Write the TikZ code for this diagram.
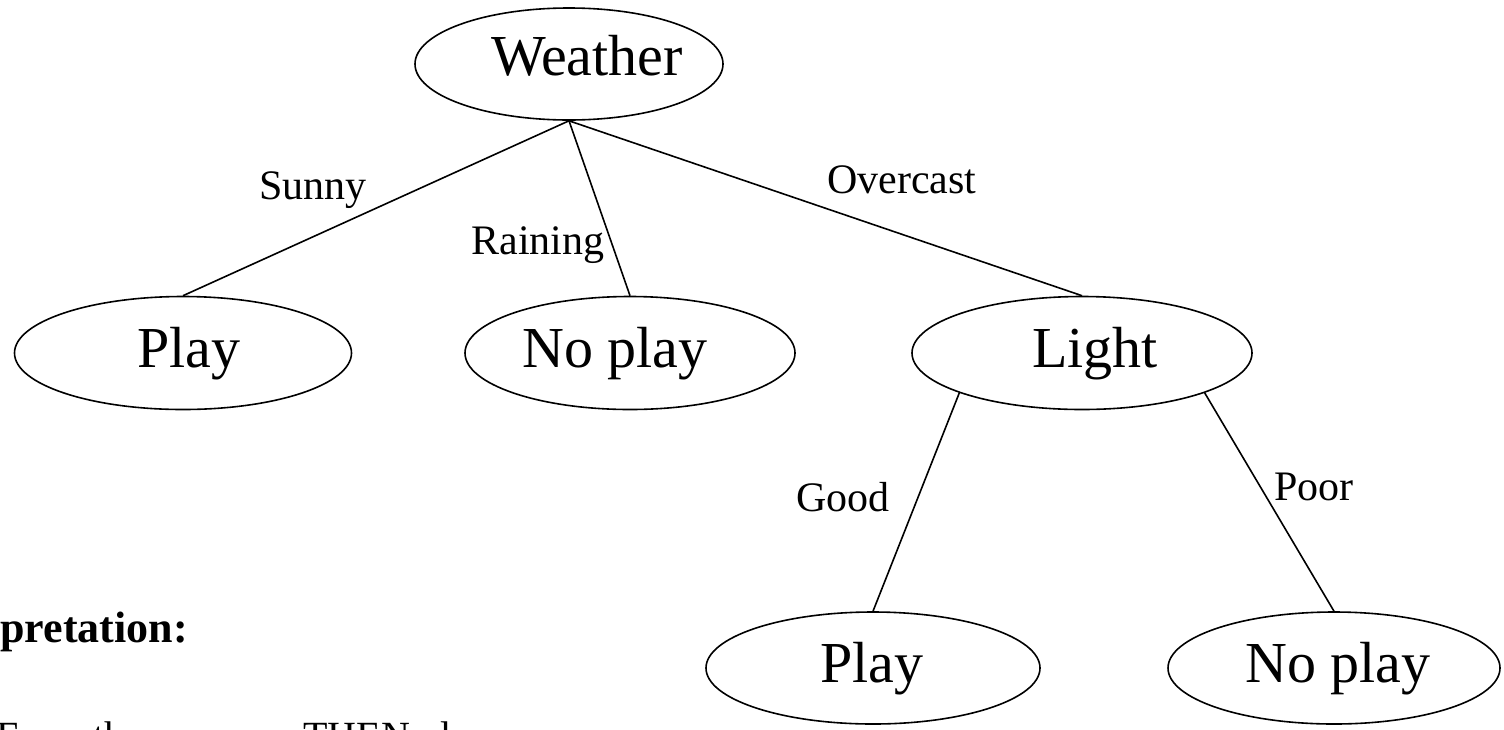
\documentclass[tikz,border=0pt]{standalone}
\usepackage{fontspec}
\setmainfont{Liberation Serif}
\usetikzlibrary{shapes.geometric}

\tikzset{
  oval/.style={draw, ellipse, line width=1.6pt, inner sep=0pt},
  nodetext/.style={anchor=base, inner sep=0pt, font=\fontsize{58}{64}\selectfont},
  edgelabel/.style={inner sep=0pt, font=\fontsize{42}{48}\selectfont},
  branch/.style={line width=1.6pt},
  bodytext/.style={anchor=base west, inner sep=0pt}
}

\begin{document}
\begin{tikzpicture}[x=1pt, y=-1pt]
  \useasboundingbox (0,0) rectangle (1504,729);
  \clip (0,0) rectangle (1504,729);

  % decision nodes (ovals)
  \node[oval, minimum width=308pt, minimum height=112pt] (weather) at (569,64)  {};
  \node[oval, minimum width=337pt, minimum height=113pt] (play1)   at (183,353) {};
  \node[oval, minimum width=330pt, minimum height=113pt] (noplay1) at (630,353) {};
  \node[oval, minimum width=340pt, minimum height=113pt] (light)   at (1082,353) {};
  \node[oval, minimum width=334pt, minimum height=112pt] (play2)   at (873,668) {};
  \node[oval, minimum width=332pt, minimum height=112pt] (noplay2) at (1334,668) {};

  % node captions
  \node[nodetext] (tweather) at (587,75)   {Weather};
  \node[nodetext] (tplay1)   at (189,367)  {Play};
  \node[nodetext] (tnoplay1) at (615,367)  {No play};
  \node[nodetext] (tlight)   at (1095,367) {Light};
  \node[nodetext] (tplay2)   at (872,682)  {Play};
  \node[nodetext] (tnoplay2) at (1338,682) {No play};

  % branches
  \draw[branch] (weather.south) -- (play1.north);
  \draw[branch] (weather.south) -- (noplay1.north);
  \draw[branch] (weather.south) -- (light.north);
  \draw[branch] (light.198) -- (play2.north);
  \draw[branch] (light.-18) -- (noplay2.north);

  % branch labels
  \node[edgelabel] (lsunny)    at (313,190) {Sunny};
  \node[edgelabel] (lraining)  at (538,245) {Raining};
  \node[edgelabel] (lovercast) at (902,180) {Overcast};
  \node[edgelabel] (lgood)     at (843,497) {Good};
  \node[edgelabel] (lpoor)     at (1314,487) {Poor};

  % rule text below the tree
  \node[bodytext, font=\bfseries\fontsize{44}{50}\selectfont] (interp) at (-95,642) {Interpretation:};
  \node[bodytext, font=\fontsize{40}{48}\selectfont] (rule) at (-17,749) {IF weather = sunny THEN play};
\end{tikzpicture}
\end{document}
